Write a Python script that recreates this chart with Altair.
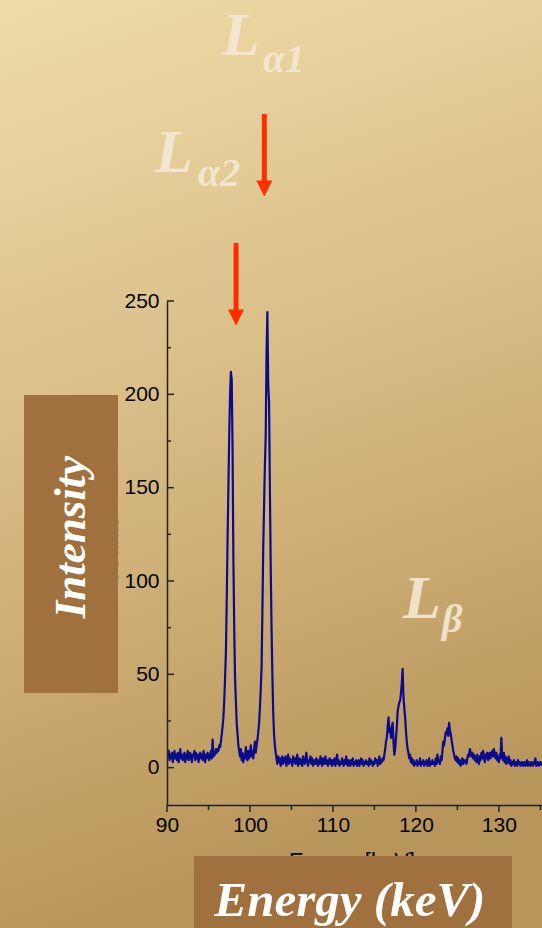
import altair as alt
import pandas as pd

# ---- spectrum: counts per 0.1 keV channel, starting at 90.0 keV ----
energy_start = 90.0
channel_width = 0.1
counts = [
    8, 6, 9, 4, 7, 5, 8, 3, 6, 9,             # 90
    5, 7, 4, 8, 3, 6, 10, 5, 7, 4,            # 91
    6, 8, 3, 7, 5, 9, 4, 6, 8, 5,             # 92
    3, 7, 6, 9, 4, 8, 5, 7, 3, 6,             # 93
    8, 5, 7, 4, 9, 6, 3, 7, 5, 8,             # 94
    6, 4, 7, 9, 5, 15, 6, 8, 7, 10,           # 95
    8, 10, 9, 12, 11, 14, 18, 22, 27, 36,     # 96
    48, 62, 90, 122, 150, 178, 200, 212, 208, 172,  # 97
    112, 76, 48, 36, 24, 18, 12, 9, 6, 10,    # 98
    4, 8, 3, 7, 5, 11, 6, 4, 9, 5,            # 99
    7, 12, 6, 9, 5, 10, 14, 8, 12, 15,        # 100
    19, 24, 32, 42, 54, 84, 118, 140, 162, 178,     # 101
    222, 244, 205, 196, 150, 108, 75, 50, 30, 18,   # 102
    12, 8, 5, 2, 6, 3, 5, 1, 4, 6,            # 103
    2, 5, 3, 6, 1, 4, 7, 2, 5, 3,             # 104
    4, 1, 6, 3, 5, 2, 4, 7, 1, 3,             # 105
    5, 2, 4, 1, 6, 3, 2, 5, 8, 3,             # 106
    1, 4, 3, 6, 2, 5, 1, 3, 4, 2,             # 107
    5, 3, 1, 4, 2, 6, 3, 1, 5, 2,             # 108
    3, 6, 2, 4, 1, 3, 5, 2, 4, 1,             # 109
    4, 2, 5, 1, 3, 7, 2, 4, 1, 3,             # 110
    2, 5, 3, 1, 4, 2, 6, 3, 1, 4,             # 111
    3, 1, 4, 2, 5, 1, 3, 2, 4, 1,             # 112
    2, 4, 1, 3, 5, 2, 4, 1, 3, 2,             # 113
    4, 2, 3, 1, 5, 2, 4, 3, 1, 3,             # 114
    2, 5, 3, 4, 1, 3, 6, 2, 4, 3,             # 115
    5, 4, 7, 10, 14, 16, 22, 27, 19, 21,      # 116
    16, 22, 24, 14, 7, 10, 16, 22, 30, 33,    # 117
    35, 36, 40, 45, 53, 38, 32, 27, 20, 14,   # 118
    10, 8, 5, 7, 3, 5, 2, 4, 1, 3,            # 119
    2, 4, 1, 3, 2, 5, 1, 3, 2, 4,             # 120
    1, 3, 2, 4, 1, 2, 5, 1, 3, 2,             # 121
    4, 2, 3, 1, 5, 2, 7, 3, 4, 2,             # 122
    6, 4, 9, 14, 12, 16, 19, 18, 21, 17,      # 123
    24, 20, 18, 15, 12, 9, 7, 5, 4, 6,        # 124
    3, 5, 2, 4, 1, 3, 5, 2, 4, 3,             # 125
    4, 2, 5, 7, 6, 10, 8, 6, 8, 5,            # 126
    7, 4, 6, 3, 7, 5, 2, 6, 4, 8,             # 127
    5, 9, 6, 3, 7, 5, 8, 4, 6, 8,             # 128
    5, 7, 9, 6, 10, 7, 5, 8, 4, 6,            # 129
    3, 7, 5, 16, 6, 4, 8, 3, 6, 2,            # 130
    5, 3, 6, 2, 4, 1, 3, 2, 4, 1,             # 131
    3, 2, 1, 4, 2, 3, 1, 2, 3, 1,             # 132
    2, 3, 1, 2, 4, 1, 3, 2, 1, 3,             # 133
    2, 1, 3, 2, 5, 1, 2, 3, 1, 2,             # 134
    3, 2, 1,                                  # 135
]
energy = [round(energy_start + i * channel_width, 1) for i in range(len(counts))]

# ---- axes ----
x_domain = [90, 135.2]
y_domain = [-20, 250]
x_labels = [90, 100, 110, 120, 130]
x_minor = [95, 105, 115, 125, 135]
y_labels = [0, 50, 100, 150, 200, 250]
y_minor = [25, 75, 125, 175, 225]

# ---- line annotations ----
peak_names = ["L", "L", "L"]
peak_name_x = [96.63, 88.55, 118.45]
peak_name_y = [382.0, 319.0, 80.2]
peak_subs = ["α1", "α2", "β"]
peak_sub_x = [101.57, 93.74, 123.15]
peak_sub_y = [372.5, 311.5, 72.7]

arrow_x = [101.73, 98.32]
arrow_top = [350.2, 281.1]
arrow_base = [314.3, 245.2]
arrow_head = [310.3, 241.2]

W, H = 375, 504
PAD = {"left": 167, "top": 301, "right": 0, "bottom": 123}

xs = alt.Scale(domain=x_domain, nice=False, zero=False)
ys = alt.Scale(domain=y_domain, nice=False, zero=False)
x_axis = alt.Axis(values=x_labels, title=None, ticks=False, grid=False, zindex=1,
                  labelFlush=False, labelFont="Liberation Sans", labelFontSize=21,
                  labelColor="#000", labelPadding=9, domainColor="#222", domainWidth=1.5)
y_axis = alt.Axis(values=y_labels, title=None, ticks=False, grid=False, zindex=1,
                  labelFlush=False, labelFont="Liberation Sans", labelFontSize=21,
                  labelColor="#000", labelPadding=8, domainColor="#222", domainWidth=1.5)


def X(field):
    return alt.X(field, type="quantitative", scale=xs, axis=x_axis)


def Y(field):
    return alt.Y(field, type="quantitative", scale=ys, axis=y_axis)


one = alt.Data(values=[{}])

backdrop = alt.Chart(one).mark_rect(
    fill=alt.LinearGradient(
        gradient="linear",
        stops=[alt.GradientStop(offset=0, color="#EFDCA9"),
               alt.GradientStop(offset=0.5, color="#D7BB84"),
               alt.GradientStop(offset=1, color="#B8955A")],
        x1=0, y1=0, x2=0.2, y2=1),
).encode(x=alt.value(-PAD["left"]), x2=alt.value(W),
         y=alt.value(-PAD["top"]), y2=alt.value(H + PAD["bottom"]))

# original black axis titles, mostly covered by the brown boxes
hidden_titles = alt.Chart(one).mark_text(
    text="Energy [keV]", font="Liberation Sans", fontSize=22, color="#000",
    align="center", baseline="alphabetic",
).encode(x=alt.value(185), y=alt.value(567)) + alt.Chart(one).mark_text(
    text="Counts", font="Liberation Sans", fontSize=22, color="#000",
    align="center", baseline="alphabetic", angle=270,
).encode(x=alt.value(-49.2), y=alt.value(250))

box_color = "#A0713E"
y_box = alt.Chart(one).mark_rect(color=box_color).encode(
    x=alt.value(-143), x2=alt.value(-49), y=alt.value(94), y2=alt.value(392))
x_box = alt.Chart(one).mark_rect(color=box_color).encode(
    x=alt.value(27), x2=alt.value(345), y=alt.value(555), y2=alt.value(H + PAD["bottom"]))
y_box_text = alt.Chart(one).mark_text(
    text="Intensity", font="Liberation Serif", fontSize=45, fontStyle="italic",
    fontWeight="bold", color="#FFFFFF", angle=270, align="center", baseline="middle",
).encode(x=alt.value(-96), y=alt.value(236))
x_box_text = alt.Chart(one).mark_text(
    text="Energy (keV)", font="Liberation Serif", fontSize=49, fontStyle="italic",
    fontWeight="bold", color="#FFFFFF", align="center", baseline="alphabetic",
).encode(x=alt.value(183), y=alt.value(615))

tick_color = "#222"
ytick_major = alt.Chart(pd.DataFrame({"v": y_labels})).mark_rule(
    color=tick_color, strokeWidth=1.5).encode(y=Y("v"), x=alt.value(0), x2=alt.value(7))
ytick_minor = alt.Chart(pd.DataFrame({"v": y_minor})).mark_rule(
    color=tick_color, strokeWidth=1.5).encode(y=Y("v"), x=alt.value(0), x2=alt.value(4))
xtick_major = alt.Chart(pd.DataFrame({"v": x_labels})).mark_rule(
    color=tick_color, strokeWidth=1.5).encode(x=X("v"), y=alt.value(H), y2=alt.value(H + 7))
xtick_minor = alt.Chart(pd.DataFrame({"v": x_minor})).mark_rule(
    color=tick_color, strokeWidth=1.5).encode(x=X("v"), y=alt.value(H), y2=alt.value(H + 5))

spectrum = alt.Chart(pd.DataFrame({"energy": energy, "counts": counts})).mark_line(
    color="#0B0B8E", strokeWidth=2.2, clip=True, strokeJoin="round",
).encode(x=X("energy"), y=Y("counts"))

arrows_df = pd.DataFrame({"x": arrow_x, "top": arrow_top, "base": arrow_base, "head": arrow_head})
arrow_color = "#FF2D00"
arrow_shafts = alt.Chart(arrows_df).mark_rule(color=arrow_color, strokeWidth=5).encode(
    x=X("x"), y=Y("top"), y2="base")
arrow_heads = alt.Chart(arrows_df).mark_point(
    shape="M-1,-1L1,-1L0,1Z", size=256, filled=True, color=arrow_color, opacity=1,
).encode(x=X("x"), y=Y("head"))

label_color = "#F4E9D4"
names = alt.Chart(pd.DataFrame({"t": peak_names, "x": peak_name_x, "y": peak_name_y})).mark_text(
    font="Liberation Serif", fontSize=62, fontStyle="italic", fontWeight="bold",
    color=label_color, opacity=0.9, align="left", baseline="alphabetic",
).encode(x=X("x"), y=Y("y"), text="t:N")
subs = alt.Chart(pd.DataFrame({"t": peak_subs, "x": peak_sub_x, "y": peak_sub_y})).mark_text(
    font="Liberation Serif", fontSize=40, fontStyle="italic", fontWeight="bold",
    color=label_color, opacity=0.9, align="left", baseline="alphabetic",
).encode(x=X("x"), y=Y("y"), text="t:N")

chart = alt.layer(
    backdrop, hidden_titles, y_box, x_box, y_box_text, x_box_text,
    ytick_major, ytick_minor, xtick_major, xtick_minor,
    spectrum, arrow_shafts, arrow_heads, names, subs,
).properties(
    width=W, height=H, padding=PAD, autosize=alt.AutoSizeParams(type="none"),
).configure_view(strokeWidth=0)

chart.save("out.html", embed_options={"renderer": "svg", "actions": False})
